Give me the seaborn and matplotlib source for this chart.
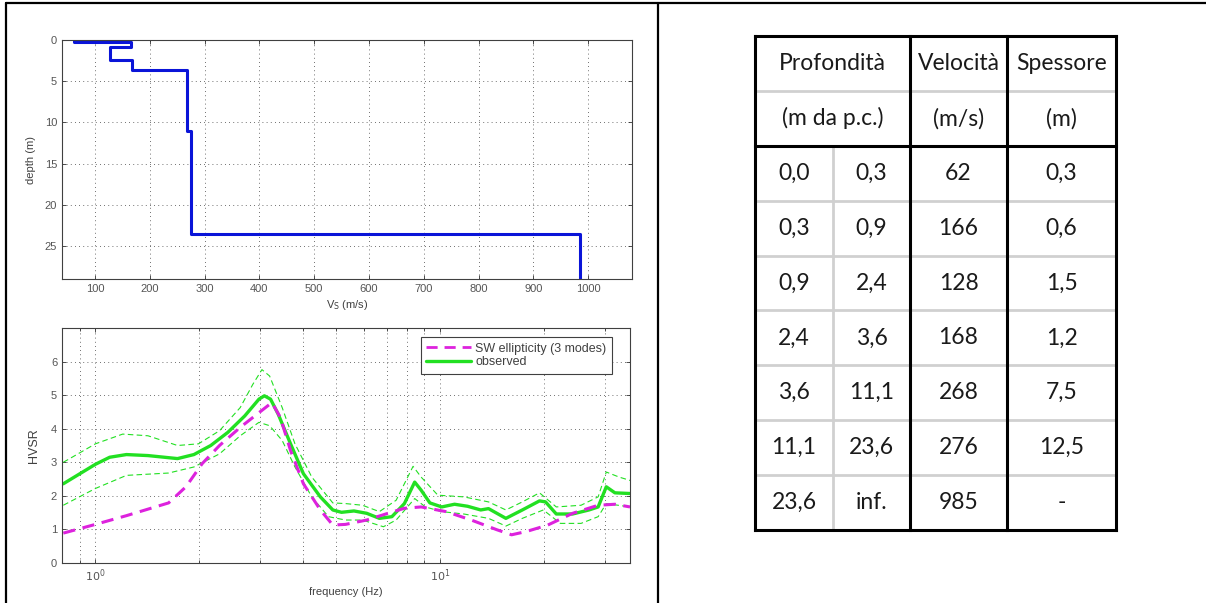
import numpy as np
import pandas as pd
import matplotlib
matplotlib.use("Agg")
import matplotlib.pyplot as plt
from matplotlib.lines import Line2D
from matplotlib.ticker import LogLocator, FixedLocator, NullFormatter
import seaborn as sns

# ---------------- data ----------------
depth_top = [0.0, 0.3, 0.9, 2.4, 3.6, 11.1, 23.6]
depth_bottom = [0.3, 0.9, 2.4, 3.6, 11.1, 23.6, None]
velocity = [62, 166, 128, 168, 268, 276, 985]
thickness = [0.3, 0.6, 1.5, 1.2, 7.5, 12.5, None]
max_depth = 29.0

obs_freq = [0.807, 1.0, 1.10, 1.23, 1.42, 1.73, 1.93, 2.16, 2.42, 2.71, 2.98, 3.09, 3.22,
            3.39, 3.68, 4.01, 4.49, 4.88, 5.17, 5.62, 6.12, 6.66, 7.24, 7.87, 8.43, 8.80,
            9.33, 10.1, 11.0, 12.0, 13.1, 13.8, 15.5, 17.3, 19.4, 20.2, 21.7, 24.2, 27.0,
            28.7, 30.3, 32.1, 35.5]
obs_hvsr = [2.36, 2.94, 3.15, 3.23, 3.20, 3.11, 3.23, 3.50, 3.89, 4.38, 4.88, 4.98, 4.88,
            4.43, 3.55, 2.66, 1.97, 1.58, 1.51, 1.55, 1.48, 1.33, 1.38, 1.77, 2.41, 2.17,
            1.79, 1.67, 1.75, 1.69, 1.58, 1.62, 1.33, 1.58, 1.85, 1.82, 1.46, 1.46, 1.58,
            1.67, 2.27, 2.09, 2.07]

up_freq = [0.807, 1.0, 1.2, 1.42, 1.73, 1.99, 2.29, 2.63, 2.86, 3.04, 3.20, 3.48, 3.79,
           4.24, 4.88, 5.31, 5.95, 6.66, 7.45, 8.34, 8.80, 9.84, 11.7, 13.8, 15.5, 17.3,
           19.4, 21.7, 25.6, 28.7, 30.3, 33.0, 35.5]
up_hvsr = [3.00, 3.55, 3.84, 3.79, 3.50, 3.55, 3.94, 4.63, 5.32, 5.76, 5.57, 4.63, 3.55,
           2.56, 1.79, 1.77, 1.72, 1.53, 1.87, 2.88, 2.56, 2.02, 1.97, 1.82, 1.58, 1.82,
           2.09, 1.67, 1.72, 1.97, 2.71, 2.56, 2.46]

lo_freq = [0.807, 1.0, 1.23, 1.63, 1.93, 2.29, 2.63, 2.98, 3.20, 3.48, 3.79, 4.24, 4.74,
           5.31, 5.95, 6.84, 7.45, 8.43, 9.06, 10.1, 11.7, 13.8, 15.5, 17.3, 19.9, 22.3,
           25.6, 28.7, 30.3, 35.5]
lo_hvsr = [1.72, 2.22, 2.61, 2.68, 2.86, 3.25, 3.79, 4.19, 4.09, 3.65, 2.86, 1.97, 1.38,
           1.28, 1.28, 1.08, 1.28, 1.92, 1.67, 1.53, 1.46, 1.33, 1.10, 1.33, 1.58, 1.18,
           1.18, 1.38, 1.77, 1.67]

sw_freq = [0.807, 1.0, 1.23, 1.63, 1.83, 2.04, 2.29, 2.63, 2.94, 3.25, 3.44, 3.68, 4.01,
           4.49, 4.88, 5.31, 6.12, 7.05, 7.87, 8.80, 10.4, 12.3, 14.6, 16.1, 17.8, 20.5,
           24.2, 28.7, 32.1, 35.5]
sw_hvsr = [0.89, 1.15, 1.41, 1.79, 2.27, 2.96, 3.50, 4.04, 4.43, 4.78, 4.33, 3.35, 2.36,
           1.58, 1.13, 1.15, 1.28, 1.48, 1.63, 1.67, 1.53, 1.28, 0.99, 0.84, 0.94, 1.13,
           1.48, 1.72, 1.75, 1.67]

legend_labels = ["SW ellipticity (3 modes)", "observed"]
header_top = ["Profondità", "Velocità", "Spessore"]
header_units = ["(m da p.c.)", "(m/s)", "(m)"]

# ---------------- style ----------------
sns.set_style("ticks")
plt.rcParams["font.family"] = ["Liberation Sans", "DejaVu Sans"]

BLUE = "#0a14d8"
GREEN = "#22e022"
MAGENTA = "#dd22dd"
TICKC = "#555555"

fig = plt.figure(figsize=(12.06, 6.03), dpi=100)
W, H = 1206.0, 603.0


def box(x0, y0, x1, y1):
    return [x0 / W, 1 - y1 / H, (x1 - x0) / W, (y1 - y0) / H]


def style_axes(ax):
    ax.tick_params(direction="in", which="both", top=True, right=True,
                   labelsize=8, labelcolor=TICKC, color="#303030", length=3, width=0.6)
    ax.tick_params(which="minor", length=2)
    for s in ax.spines.values():
        s.set_visible(True)
        s.set_color("#404040")
        s.set_linewidth(0.8)


grid_kw = dict(color="#404040", linestyle=(0, (1, 4)), linewidth=0.6)

# ---------------- top: Vs profile ----------------
ax1 = fig.add_axes(box(62, 40, 632, 279))
prof_x, prof_y = [], []
for i, v in enumerate(velocity):
    bot = depth_bottom[i] if depth_bottom[i] is not None else max_depth
    prof_x += [v, v]
    prof_y += [depth_top[i], bot]
prof = pd.DataFrame({"vs": prof_x, "depth": prof_y})
sns.lineplot(data=prof, x="vs", y="depth", sort=False, estimator=None,
             color=BLUE, linewidth=2.2, ax=ax1)
ax1.set_xlim(40, 1080)
ax1.set_ylim(max_depth, 0)
ax1.set_xticks(range(100, 1001, 100))
ax1.set_yticks([0, 5, 10, 15, 20, 25])
ax1.grid(True, **grid_kw)
ax1.set_xlabel(r"V$_\mathrm{S}$ (m/s)", fontsize=8, color="#404040", labelpad=3)
ax1.set_ylabel("depth (m)", fontsize=8, color="#404040", labelpad=6)
style_axes(ax1)

# ---------------- bottom: HVSR ----------------
ax2 = fig.add_axes(box(62, 328, 630, 563))
sns.lineplot(x=up_freq, y=up_hvsr, sort=False, estimator=None, color=GREEN,
             linewidth=0.8, linestyle=(0, (5, 3)), ax=ax2)
sns.lineplot(x=lo_freq, y=lo_hvsr, sort=False, estimator=None, color=GREEN,
             linewidth=0.8, linestyle=(0, (5, 3)), ax=ax2)
sns.lineplot(x=obs_freq, y=obs_hvsr, sort=False, estimator=None, color=GREEN,
             linewidth=2.4, ax=ax2)
sns.lineplot(x=sw_freq, y=sw_hvsr, sort=False, estimator=None, color=MAGENTA,
             linewidth=2.2, linestyle=(0, (4, 2.5)), ax=ax2)
ax2.set_xscale("log")
ax2.set_xlim(0.8, 35.5)
ax2.set_ylim(0, 7)
ax2.set_yticks(range(0, 7))
ax2.xaxis.set_major_locator(FixedLocator([1, 10]))
ax2.set_xticklabels([r"$10^0$", r"$10^1$"])
ax2.xaxis.set_minor_locator(LogLocator(base=10, subs=np.arange(2, 10)))
ax2.xaxis.set_minor_formatter(NullFormatter())
ax2.grid(True, which="both", axis="x", **grid_kw)
ax2.grid(True, which="major", axis="y", **grid_kw)
ax2.set_xlabel("frequency (Hz)", fontsize=8, color="#404040", labelpad=2)
ax2.set_ylabel("HVSR", fontsize=9, color="#404040", labelpad=8)
style_axes(ax2)
handles = [Line2D([], [], color=MAGENTA, lw=2.0, linestyle=(0, (4, 2.5))),
           Line2D([], [], color=GREEN, lw=2.4)]
leg = ax2.legend(handles, legend_labels, loc="upper right", bbox_to_anchor=(0.968, 0.962),
                 borderaxespad=0, fontsize=9, frameon=True, fancybox=False, framealpha=1,
                 edgecolor="#404040", borderpad=0.45, labelspacing=0.15,
                 handlelength=3.6, handletextpad=0.3)
leg.get_frame().set_linewidth(0.8)
for t in leg.get_texts():
    t.set_color("#404040")

# ---------------- table ----------------
ax3 = fig.add_axes(box(755, 36, 1116, 530))
ax3.set_xlim(0, 361)
ax3.set_ylim(9, 0)
ax3.axis("off")
col_edges = [0, 78, 155, 252, 361]
nrows = 2 + len(velocity)
GRAY = "#d0d0d0"
TFONT = dict(family=["Lato", "DejaVu Sans"], fontsize=16.5, color="#1a1a1a",
             ha="center", va="center")
line_kw = dict(clip_on=False, solid_capstyle="projecting")

# gray inner lines
for r in range(1, nrows):
    if r == 2:
        continue
    ax3.plot([0, 361], [r, r], color=GRAY, lw=2, zorder=1, **line_kw)
ax3.plot([col_edges[1]] * 2, [2, nrows], color=GRAY, lw=2, zorder=1, **line_kw)
# black lines
for xe in [col_edges[0], col_edges[2], col_edges[3], col_edges[4]]:
    ax3.plot([xe, xe], [0, nrows], color="black", lw=2.2, zorder=2, **line_kw)
for r in [0, 2, nrows]:
    ax3.plot([0, 361], [r, r], color="black", lw=2.2, zorder=2, **line_kw)

# headers
hx = [(col_edges[0] + col_edges[2]) / 2, (col_edges[2] + col_edges[3]) / 2,
      (col_edges[3] + col_edges[4]) / 2]
for i in range(3):
    ax3.text(hx[i], 0.5, header_top[i], **TFONT)
    ax3.text(hx[i], 1.5, header_units[i], **TFONT)


def fmt(v):
    return f"{v:.1f}".replace(".", ",")


cx = [(col_edges[i] + col_edges[i + 1]) / 2 for i in range(4)]
for i in range(len(velocity)):
    y = 2.5 + i
    ax3.text(cx[0], y, fmt(depth_top[i]), **TFONT)
    ax3.text(cx[1], y, fmt(depth_bottom[i]) if depth_bottom[i] is not None else "inf.", **TFONT)
    ax3.text(cx[2], y, str(velocity[i]), **TFONT)
    ax3.text(cx[3], y, fmt(thickness[i]) if thickness[i] is not None else "-", **TFONT)

# ---------------- page frame ----------------
for (x0, y0, x1, y1) in [(6, 3, 1206, 3), (6, 3, 6, 603), (657.5, 3, 657.5, 603)]:
    fig.add_artist(Line2D([x0 / W, x1 / W], [1 - y0 / H, 1 - y1 / H],
                          transform=fig.transFigure, color="black", lw=1.6))

fig.savefig("out.png", dpi=100)
